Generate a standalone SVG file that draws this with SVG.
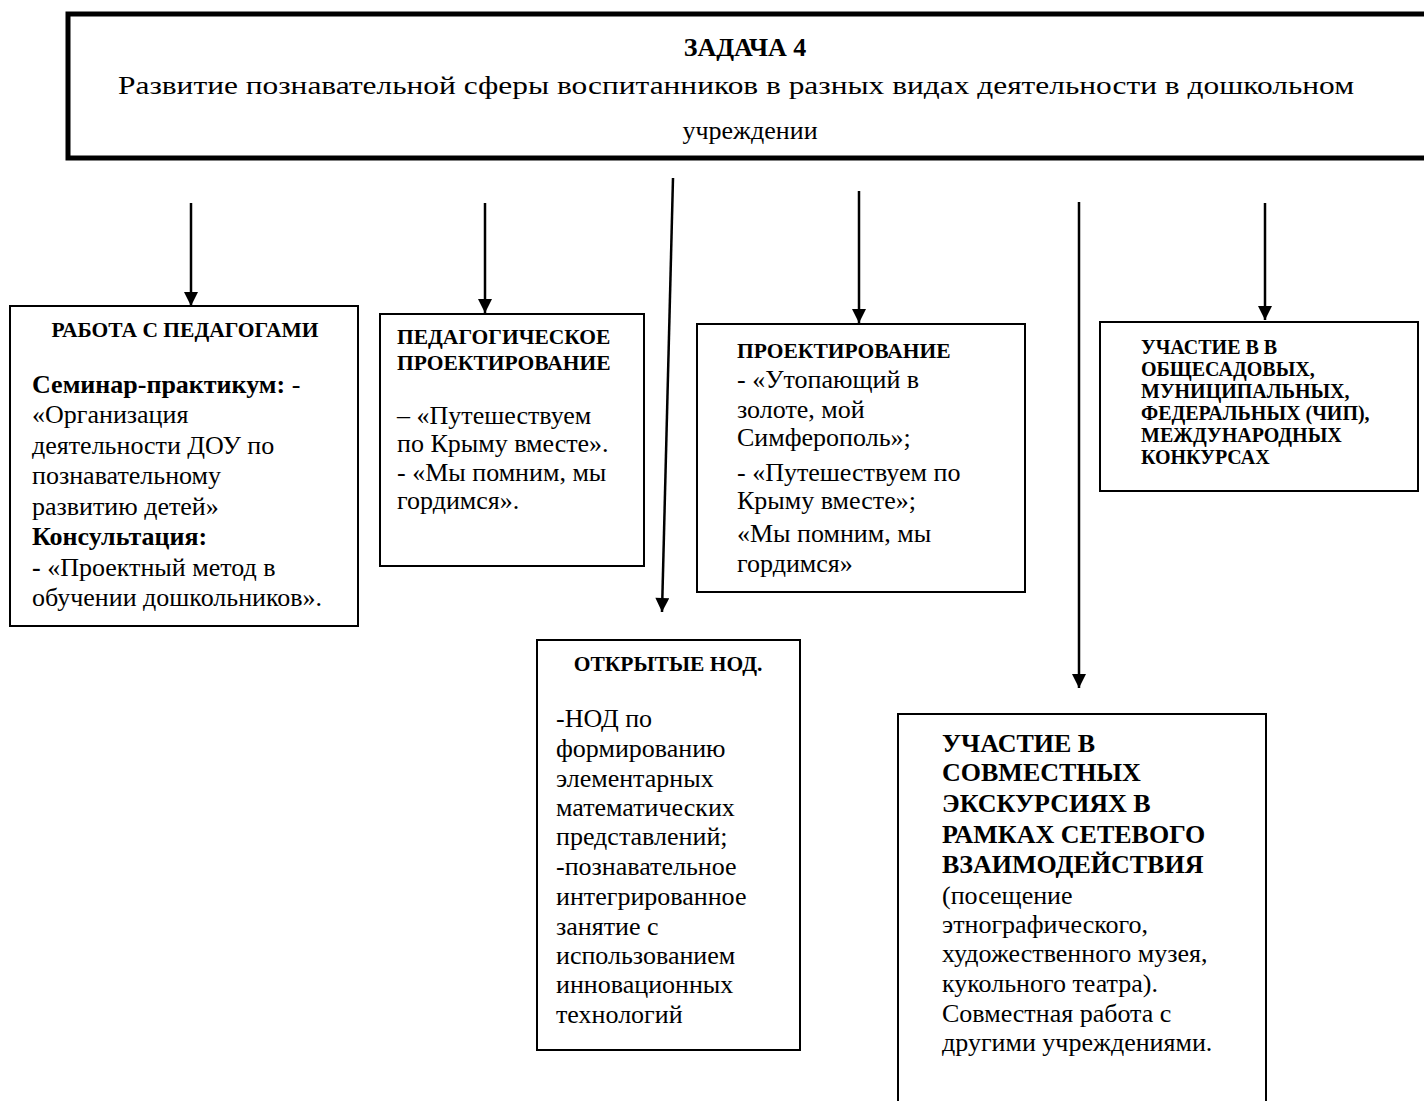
<svg xmlns="http://www.w3.org/2000/svg" width="1424" height="1101" viewBox="0 0 1424 1101">
<style>
text{font-family:"Liberation Serif","Times New Roman",serif;fill:#000}
.b{font-weight:bold}
.h{font-size:26px}
.t{font-size:21.5px;font-weight:bold}
.d{font-size:20px;font-weight:bold}
.x{font-size:26px}
.box{fill:#fff;stroke:#000;stroke-width:2}
.con{stroke:#000;stroke-width:2.5;fill:none}
</style>
<defs>
<marker id="ah" viewBox="0 0 10 10" refX="10" refY="5" markerWidth="15" markerHeight="14" orient="auto" markerUnits="userSpaceOnUse">
<path d="M0,0 L10,5 L0,10 z" fill="#000"/>
</marker>
</defs>
<rect width="1424" height="1101" fill="#fff"/>
<g id="header">
<rect x="68" y="14" width="1370" height="144" fill="#fff" stroke="#000" stroke-width="5"/>
<text class="h b" x="745" y="56" text-anchor="middle">ЗАДАЧА 4</text>
<text class="h" x="118" y="94" textLength="1236" lengthAdjust="spacingAndGlyphs">Развитие познавательной сферы воспитанников в разных видах деятельности в дошкольном</text>
<text class="h" x="750" y="139" text-anchor="middle">учреждении</text>
</g>
<g id="connectors">
<line class="con" x1="191" y1="203" x2="191" y2="306" marker-end="url(#ah)"/>
<line class="con" x1="485" y1="203" x2="485" y2="313" marker-end="url(#ah)"/>
<line class="con" x1="673" y1="178" x2="662" y2="612" marker-end="url(#ah)"/>
<line class="con" x1="859" y1="191" x2="859" y2="323" marker-end="url(#ah)"/>
<line class="con" x1="1079" y1="202" x2="1079" y2="688" marker-end="url(#ah)"/>
<line class="con" x1="1265" y1="203" x2="1265" y2="320" marker-end="url(#ah)"/>
</g>
<g id="node-pedagogi">
<rect class="box" x="10" y="306" width="348" height="320"/>
<text class="t" x="185" y="337" text-anchor="middle">РАБОТА С ПЕДАГОГАМИ</text>
<text class="x" x="32" y="393"><tspan class="b">Семинар-практикум:</tspan>  -</text>
<text class="x" x="32" y="423">«Организация</text>
<text class="x" x="32" y="454">деятельности ДОУ по</text>
<text class="x" x="32" y="484">познавательному</text>
<text class="x" x="32" y="515">развитию детей»</text>
<text class="x b" x="32" y="545">Консультация:</text>
<text class="x" x="32" y="576"><tspan class="b">-</tspan> «Проектный метод в</text>
<text class="x" x="32" y="606">обучении дошкольников».</text>
</g>
<g id="node-ped-proekt">
<rect class="box" x="380" y="314" width="264" height="252"/>
<text class="t" x="397" y="344">ПЕДАГОГИЧЕСКОЕ</text>
<text class="t" x="397" y="370">ПРОЕКТИРОВАНИЕ</text>
<text class="x" x="397" y="424">– «Путешествуем</text>
<text class="x" x="397" y="452">по Крыму вместе».</text>
<text class="x" x="397" y="481">- «Мы помним, мы</text>
<text class="x" x="397" y="509">гордимся».</text>
</g>
<g id="node-proekt">
<rect class="box" x="697" y="324" width="328" height="268"/>
<text class="t" x="737" y="358">ПРОЕКТИРОВАНИЕ</text>
<text class="x" x="737" y="388">- «Утопающий в</text>
<text class="x" x="737" y="418">золоте, мой</text>
<text class="x" x="737" y="446">Симферополь»;</text>
<text class="x" x="737" y="481">- «Путешествуем по</text>
<text class="x" x="737" y="509">Крыму вместе»;</text>
<text class="x" x="737" y="542">«Мы помним, мы</text>
<text class="x" x="737" y="572">гордимся»</text>
</g>
<g id="node-konkursy">
<rect class="box" x="1100" y="322" width="318" height="169"/>
<text class="d" x="1141" y="354">УЧАСТИЕ В В</text>
<text class="d" x="1141" y="376">ОБЩЕСАДОВЫХ,</text>
<text class="d" x="1141" y="398">МУНИЦИПАЛЬНЫХ,</text>
<text class="d" x="1141" y="420">ФЕДЕРАЛЬНЫХ (ЧИП),</text>
<text class="d" x="1141" y="442">МЕЖДУНАРОДНЫХ</text>
<text class="d" x="1141" y="464">КОНКУРСАХ</text>
</g>
<g id="node-nod">
<rect class="box" x="537" y="640" width="263" height="410"/>
<text class="t" x="668" y="671" text-anchor="middle">ОТКРЫТЫЕ НОД.</text>
<text class="x" x="556" y="727">-НОД по</text>
<text class="x" x="556" y="757">формированию</text>
<text class="x" x="556" y="787">элементарных</text>
<text class="x" x="556" y="816">математических</text>
<text class="x" x="556" y="845">представлений;</text>
<text class="x" x="556" y="875">-познавательное</text>
<text class="x" x="556" y="905">интегрированное</text>
<text class="x" x="556" y="935">занятие с</text>
<text class="x" x="556" y="964">использованием</text>
<text class="x" x="556" y="993">инновационных</text>
<text class="x" x="556" y="1023">технологий</text>
</g>
<g id="node-ekskursii">
<rect class="box" x="898" y="714" width="368" height="420"/>
<text class="x b" x="942" y="752">УЧАСТИЕ В</text>
<text class="x b" x="942" y="781">СОВМЕСТНЫХ</text>
<text class="x b" x="942" y="812">ЭКСКУРСИЯХ В</text>
<text class="x b" x="942" y="843">РАМКАХ СЕТЕВОГО</text>
<text class="x b" x="942" y="873">ВЗАИМОДЕЙСТВИЯ</text>
<text class="x" x="942" y="904">(посещение</text>
<text class="x" x="942" y="933">этнографического,</text>
<text class="x" x="942" y="962">художественного музея,</text>
<text class="x" x="942" y="992">кукольного театра).</text>
<text class="x" x="942" y="1022">Совместная работа с</text>
<text class="x" x="942" y="1051">другими учреждениями.</text>
</g>
</svg>
